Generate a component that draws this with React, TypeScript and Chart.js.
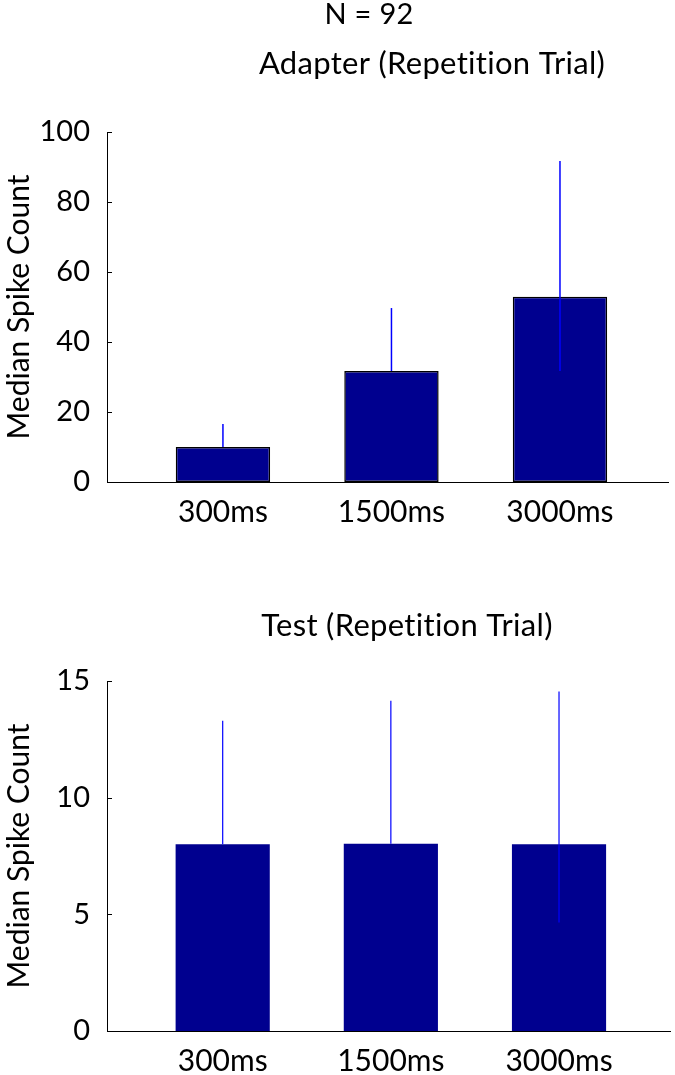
import React, { useEffect, useRef } from 'react';
import { Chart, registerables } from 'chart.js';

Chart.register(...registerables);

// ---- data ----
const categories = ['300ms', '1500ms', '3000ms'];

const adapterMedians = [10.0, 31.7, 52.9];
const adapterErrHigh = [16.6, 49.7, 91.7];
const adapterErrLow = [10.0, 31.7, 31.7];
const adapterTicks = [0, 20, 40, 60, 80, 100];

const testMedians = [8.0, 8.03, 8.0];
const testErrHigh = [13.3, 14.15, 14.55];
const testErrLow = [8.0, 8.03, 4.65];
const testTicks = [0, 5, 10, 15];

const FONT = 'Lato, "Open Sans", sans-serif';

type TextItem = { text: string; x: number; y: number; size: number };

type PanelProps = {
  top: number;
  height: number;
  medians: number[];
  errHigh: number[];
  errLow: number[];
  yTicks: number[];
  xMin: number;
  xMax: number;
  padTop: number;
  xAxisHeight: number;
  padRight: number;
  outlined: boolean;
  errWidth: number;
  texts: TextItem[];
};

function Panel(p: PanelProps) {
  const ref = useRef<HTMLCanvasElement | null>(null);

  useEffect(() => {
    if (!ref.current) return;

    const errPlugin = {
      id: 'errBars',
      afterDatasetsDraw(chart: any) {
        const { ctx } = chart;
        const xs = chart.scales.x;
        const ys = chart.scales.y;
        ctx.save();
        ctx.strokeStyle = '#0000FF';
        ctx.lineWidth = p.errWidth;
        p.medians.forEach((_, i) => {
          const x = xs.getPixelForValue(i);
          ctx.beginPath();
          ctx.moveTo(x, ys.getPixelForValue(p.errHigh[i]));
          ctx.lineTo(x, ys.getPixelForValue(p.errLow[i]));
          ctx.stroke();
        });
        ctx.restore();
      },
    };

    const tickPlugin = {
      id: 'inTicks',
      afterDraw(chart: any) {
        const { ctx, chartArea } = chart;
        const ys = chart.scales.y;
        ctx.save();
        ctx.strokeStyle = '#000';
        ctx.lineWidth = 1;
        p.yTicks.forEach((v) => {
          const y = Math.round(ys.getPixelForValue(v)) + 0.5;
          ctx.beginPath();
          ctx.moveTo(chartArea.left, y);
          ctx.lineTo(chartArea.left + 5, y);
          ctx.stroke();
        });
        ctx.restore();
      },
    };

    const textPlugin = {
      id: 'panelTexts',
      afterDraw(chart: any) {
        const { ctx } = chart;
        ctx.save();
        ctx.fillStyle = '#000';
        ctx.textAlign = 'center';
        ctx.textBaseline = 'alphabetic';
        p.texts.forEach((t) => {
          ctx.font = `${t.size}px ${FONT}`;
          try {
            (ctx as any).letterSpacing = '0.3px';
          } catch (e) {}
          ctx.fillText(t.text, t.x, t.y);
        });
        ctx.restore();
      },
    };

    const chart = new Chart(ref.current, {
      type: 'bar',
      data: {
        datasets: [
          {
            data: p.medians.map((v, i) => ({ x: i, y: v })),
            backgroundColor: '#00008F',
            borderColor: p.outlined ? '#000000' : '#00008F',
            borderWidth: p.outlined ? 1.5 : 0,
            borderSkipped: false,
            categoryPercentage: 1,
            barPercentage: 0.56,
          },
        ],
      },
      options: {
        responsive: false,
        animation: false,
        devicePixelRatio: 1,
        layout: { padding: { top: p.padTop, right: p.padRight, left: 0, bottom: 0 } },
        plugins: {
          legend: { display: false },
          tooltip: { enabled: false },
          title: { display: false },
        },
        scales: {
          x: {
            type: 'linear',
            offset: false,
            min: p.xMin,
            max: p.xMax,
            afterBuildTicks: (s: any) => {
              s.ticks = categories.map((_, i) => ({ value: i }));
            },
            afterFit: (s: any) => {
              s.height = p.xAxisHeight;
            },
            grid: { display: false, drawTicks: false, offset: false },
            border: { display: true, color: '#000', width: 1 },
            ticks: {
              color: '#000',
              font: { family: FONT, size: 30 },
              padding: 12,
              maxRotation: 0,
              autoSkip: false,
              callback: (v: any) => categories[Math.round(Number(v))] ?? '',
            },
          },
          y: {
            type: 'linear',
            min: p.yTicks[0],
            max: p.yTicks[p.yTicks.length - 1],
            afterBuildTicks: (s: any) => {
              s.ticks = p.yTicks.map((v) => ({ value: v }));
            },
            afterFit: (s: any) => {
              s.width = 107;
            },
            grid: { display: false, drawTicks: false },
            border: { display: true, color: '#000', width: 1 },
            ticks: {
              color: '#000',
              font: { family: FONT, size: 29 },
              padding: 17,
            },
            title: {
              display: true,
              text: 'Median Spike Count',
              color: '#000',
              font: { family: FONT, size: 30 },
              padding: { top: 1, bottom: 0 },
            },
          },
        },
      },
      plugins: [errPlugin, tickPlugin, textPlugin],
    } as any);

    return () => chart.destroy();
  }, []);

  return (
    <div style={{ position: 'absolute', left: 0, top: p.top, width: 675, height: p.height }}>
      <canvas ref={ref} width={675} height={p.height} style={{ display: 'block' }} />
    </div>
  );
}

export default function App() {
  return (
    <div
      style={{
        position: 'absolute',
        left: 0,
        top: 0,
        width: 675,
        height: 1075,
        background: '#fff',
        overflow: 'hidden',
      }}
    >
      <Panel
        top={0}
        height={545}
        medians={adapterMedians}
        errHigh={adapterErrHigh}
        errLow={adapterErrLow}
        yTicks={adapterTicks}
        xMin={-0.688}
        xMax={2.641}
        padTop={132}
        xAxisHeight={63}
        padRight={7}
        outlined={true}
        errWidth={1.5}
        texts={[
          { text: 'N = 92', x: 369, y: 24, size: 29 },
          { text: 'Adapter (Repetition Trial)', x: 432, y: 74, size: 31 },
        ]}
      />
      <Panel
        top={545}
        height={530}
        medians={testMedians}
        errHigh={testErrHigh}
        errLow={testErrLow}
        yTicks={testTicks}
        xMin={-0.688}
        xMax={2.66}
        padTop={136}
        xAxisHeight={44}
        padRight={5}
        outlined={false}
        errWidth={1.2}
        texts={[{ text: 'Test (Repetition Trial)', x: 407, y: 91, size: 31 }]}
      />
    </div>
  );
}
